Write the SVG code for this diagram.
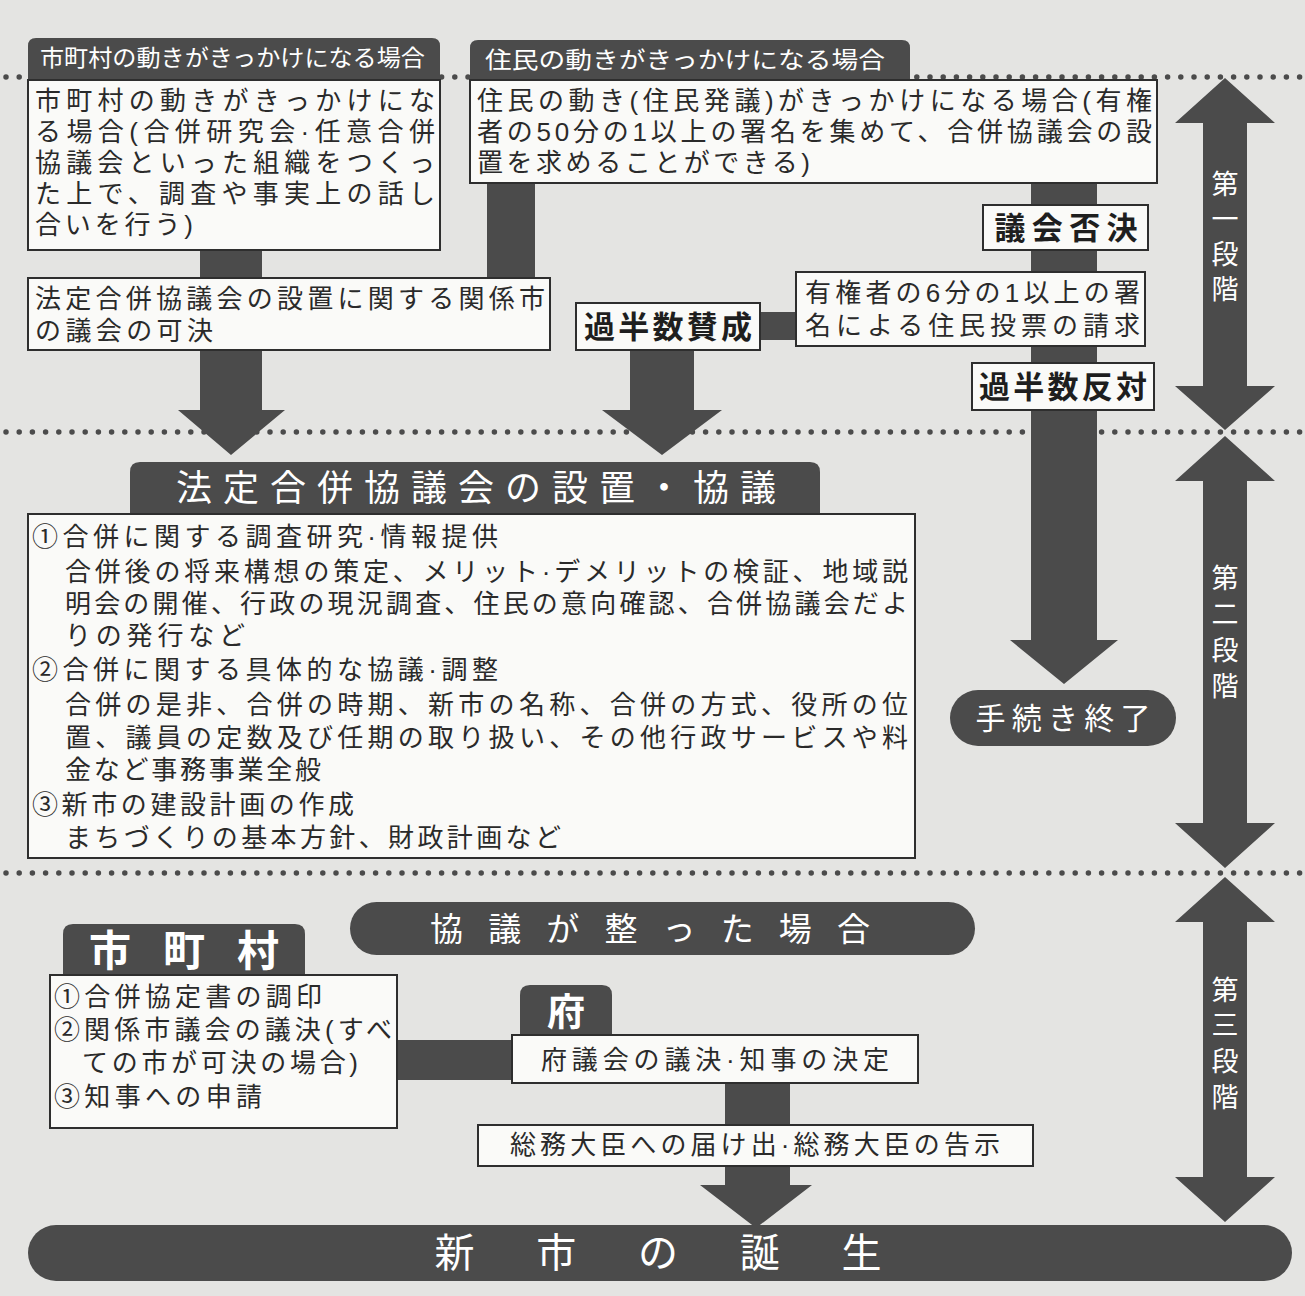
<svg xmlns="http://www.w3.org/2000/svg" width="1305" height="1296" viewBox="0 0 1305 1296">
<style>
text{font-family:"Liberation Sans","Noto Sans CJK JP","Noto Sans CJK SC",sans-serif;}
.bg{fill:#e4e4e2;}
.dark{fill:#4b4b4b;}
.box{fill:#fafaf8;stroke:#2e2e2e;stroke-width:2;}
.dots{stroke:#4b4b4b;stroke-width:5.5;stroke-linecap:round;stroke-dasharray:0 13.2;fill:none;}
.t{fill:#2a2a2a;font-size:26px;}
.tb{fill:#1e1e1e;font-size:31px;font-weight:bold;}
.w{fill:#fff;}
.tab{fill:#fff;font-size:23px;}
.stage{fill:#fff;font-size:27px;text-anchor:middle;}
</style>
<rect class="bg" x="0" y="0" width="1305" height="1296"/>

<g id="separators">
<line class="dots" x1="6" y1="77" x2="1305" y2="77"/>
<line class="dots" x1="6" y1="432" x2="1305" y2="432"/>
<line class="dots" x1="6" y1="873" x2="1305" y2="873"/>
</g>

<g id="connectors">
<rect class="dark" x="200" y="245" width="62" height="40"/>
<polygon class="dark" points="200,345 262,345 262,410 285,410 231,455 178,410 200,410"/>
<rect class="dark" x="487" y="180" width="48" height="102"/>
<polygon class="dark" points="630,345 694,345 694,410 722,410 662,455 602,410 630,410"/>
<rect class="dark" x="755" y="312" width="45" height="28"/>
<polygon class="dark" points="1031,180 1097,180 1097,640 1118,640 1064,684 1010,640 1031,640"/>
<rect class="dark" x="395" y="1040" width="120" height="40"/>
<polygon class="dark" points="725,1080 790,1080 790,1185 812,1185 756,1228 700,1185 725,1185"/>
</g>

<g id="stage1">
<polygon class="dark" points="1225,78 1275,123 1247,123 1247,386 1275,386 1225,430 1175,386 1203,386 1203,123 1175,123"/>
<text class="stage"><tspan x="1225" y="194">第</tspan><tspan x="1225" y="229">一</tspan><tspan x="1225" y="264">段</tspan><tspan x="1225" y="299">階</tspan></text>
</g>
<g id="stage2">
<polygon class="dark" points="1225,436 1275,481 1247,481 1247,823 1275,823 1225,868 1175,823 1203,823 1203,481 1175,481"/>
<text class="stage"><tspan x="1225" y="588">第</tspan><tspan x="1225" y="624">二</tspan><tspan x="1225" y="660">段</tspan><tspan x="1225" y="696">階</tspan></text>
</g>
<g id="stage3">
<polygon class="dark" points="1225,877 1275,922 1247,922 1247,1177 1275,1177 1225,1222 1175,1177 1203,1177 1203,922 1175,922"/>
<text class="stage"><tspan x="1225" y="1000">第</tspan><tspan x="1225" y="1035">三</tspan><tspan x="1225" y="1071">段</tspan><tspan x="1225" y="1107">階</tspan></text>
</g>

<g id="municipal-trigger">
<path class="dark" d="M28,82 V46 Q28,38 36,38 H432 Q440,38 440,46 V82 Z"/>
<text class="tab" x="40" y="66" textLength="385" lengthAdjust="spacingAndGlyphs">市町村の動きがきっかけになる場合</text>
<rect class="box" x="28" y="80" width="412" height="170"/>
<text class="t"><tspan x="35" y="110" textLength="400">市町村の動きがきっかけにな</tspan><tspan x="35" y="141" textLength="400">る場合(合併研究会·任意合併</tspan><tspan x="35" y="172" textLength="400">協議会といった組織をつくっ</tspan><tspan x="35" y="203" textLength="400">た上で、調査や事実上の話し</tspan><tspan x="35" y="234" textLength="158">合いを行う)</tspan></text>
</g>

<g id="resident-trigger">
<path class="dark" d="M470,82 V48 Q470,40 478,40 H902 Q910,40 910,48 V82 Z"/>
<text class="tab" x="485" y="68" textLength="400" lengthAdjust="spacingAndGlyphs">住民の動きがきっかけになる場合</text>
<rect class="box" x="470" y="80" width="687" height="103"/>
<text class="t"><tspan x="477" y="110" textLength="675">住民の動き(住民発議)がきっかけになる場合(有権</tspan><tspan x="477" y="141" textLength="675">者の50分の1以上の署名を集めて、合併協議会の設</tspan><tspan x="477" y="172" textLength="333">置を求めることができる)</tspan></text>
</g>

<g id="council-approval">
<rect class="box" x="28" y="278" width="522" height="72"/>
<text class="t"><tspan x="35" y="308" textLength="510">法定合併協議会の設置に関する関係市</tspan><tspan x="35" y="340" textLength="178">の議会の可決</tspan></text>
</g>

<g id="majority-yes">
<rect class="box" x="576" y="303" width="184" height="47"/>
<text class="tb" x="668" y="338" text-anchor="middle" textLength="168">過半数賛成</text>
</g>

<g id="petition">
<rect class="box" x="796" y="272" width="349" height="74"/>
<text class="t"><tspan x="805" y="302" textLength="335">有権者の6分の1以上の署</tspan><tspan x="805" y="335" textLength="335">名による住民投票の請求</tspan></text>
</g>

<g id="council-reject">
<rect class="box" x="983" y="205" width="165" height="45"/>
<text class="tb" x="1066" y="239" text-anchor="middle" textLength="143">議会否決</text>
</g>

<g id="majority-no">
<rect class="box" x="972" y="363" width="182" height="47"/>
<text class="tb" x="1063" y="398" text-anchor="middle" textLength="168">過半数反対</text>
</g>

<g id="statutory-council">
<path class="dark" d="M130,516 V472 Q130,462 140,462 H810 Q820,462 820,472 V516 Z"/>
<text class="w" x="176" y="501" font-size="36" textLength="600">法定合併協議会の設置・協議</text>
<rect class="box" x="28" y="514" width="887" height="344"/>
<text class="t"><tspan x="32" y="546" textLength="466">①合併に関する調査研究·情報提供</tspan><tspan x="65" y="581" textLength="843">合併後の将来構想の策定、メリット·デメリットの検証、地域説</tspan><tspan x="65" y="613" textLength="843">明会の開催、行政の現況調査、住民の意向確認、合併協議会だよ</tspan><tspan x="65" y="645" textLength="180">りの発行など</tspan><tspan x="32" y="679" textLength="466">②合併に関する具体的な協議·調整</tspan><tspan x="65" y="714" textLength="843">合併の是非、合併の時期、新市の名称、合併の方式、役所の位</tspan><tspan x="65" y="747" textLength="843">置、議員の定数及び任期の取り扱い、その他行政サービスや料</tspan><tspan x="65" y="779" textLength="256">金など事務事業全般</tspan><tspan x="32" y="814" textLength="322">③新市の建設計画の作成</tspan><tspan x="65" y="847" textLength="496">まちづくりの基本方針、財政計画など</tspan></text>
</g>

<g id="procedure-end">
<rect class="dark" x="950" y="690" width="226" height="56" rx="28"/>
<text class="w" x="1063" y="729" font-size="30" text-anchor="middle" textLength="175">手続き終了</text>
</g>

<g id="agreement">
<rect class="dark" x="350" y="902" width="625" height="53" rx="26.5"/>
<text class="w" x="650" y="941" font-size="33" text-anchor="middle" textLength="440">協議が整った場合</text>
</g>

<g id="municipalities">
<path class="dark" d="M63,977 V934 Q63,924 73,924 H295 Q305,924 305,934 V977 Z"/>
<text class="w" x="184" y="966" font-size="42" font-weight="bold" text-anchor="middle" textLength="190">市町村</text>
<rect class="box" x="50" y="975" width="347" height="153"/>
<text class="t" font-size="25"><tspan x="54" y="1006" textLength="268">①合併協定書の調印</tspan><tspan x="54" y="1039" textLength="338">②関係市議会の議決(すべ</tspan><tspan x="82" y="1072" textLength="276">ての市が可決の場合)</tspan><tspan x="54" y="1106" textLength="208">③知事への申請</tspan></text>
</g>

<g id="prefecture">
<path class="dark" d="M520,1037 V995 Q520,985 530,985 H602 Q612,985 612,995 V1037 Z"/>
<text class="w" x="566" y="1025" font-size="38" font-weight="bold" text-anchor="middle">府</text>
<rect class="box" x="512" y="1035" width="406" height="48"/>
<text class="t" x="715" y="1069" font-size="25" text-anchor="middle" textLength="348">府議会の議決·知事の決定</text>
</g>

<g id="minister">
<rect class="box" x="478" y="1125" width="555" height="41"/>
<text class="t" x="755" y="1154" font-size="25" text-anchor="middle" textLength="490">総務大臣への届け出·総務大臣の告示</text>
</g>

<g id="new-city">
<rect class="dark" x="28" y="1225" width="1264" height="56" rx="28"/>
<text class="w" x="658" y="1267" font-size="40" text-anchor="middle" textLength="447">新市の誕生</text>
</g>
</svg>
